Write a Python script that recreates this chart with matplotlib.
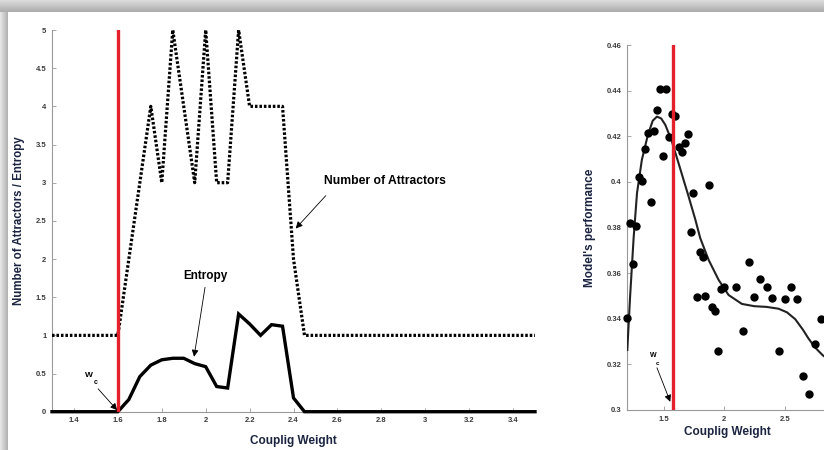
import numpy as np
import matplotlib.pyplot as plt

plt.rcParams.update({'font.family': ['Liberation Sans', 'DejaVu Sans'],
                     'font.weight': 'bold', 'axes.labelweight': 'bold'})

# left panel: number of attractors and entropy vs coupling weight
w_left = [1.3, 1.6, 1.65, 1.7, 1.75, 1.8, 1.85, 1.9, 1.95, 2.0, 2.05, 2.1,
          2.15, 2.2, 2.25, 2.3, 2.35, 2.4, 2.45, 3.5]
attractors = [1, 1, 2, 3, 4, 3, 5, 4, 3, 5, 3, 3, 5, 4, 4, 4, 4, 2, 1, 1]
entropy = [0, 0, 0.16, 0.46, 0.61, 0.68, 0.70, 0.70, 0.63, 0.59, 0.33, 0.31,
           1.28, 1.15, 1.0, 1.14, 1.12, 0.18, 0, 0]
left_xticks = [1.4, 1.6, 1.8, 2.0, 2.2, 2.4, 2.6, 2.8, 3.0, 3.2, 3.4]
left_yticks = [0, 0.5, 1, 1.5, 2, 2.5, 3, 3.5, 4, 4.5, 5]
wc_left = 1.6

# right panel: model performance vs coupling weight
perf_x = [1.22, 1.27, 1.293, 1.32, 1.343, 1.37, 1.395, 1.423, 1.445, 1.467,
          1.522, 1.497, 1.541, 1.569, 1.597, 1.624, 1.649, 1.674, 1.698,
          1.745, 1.874, 1.723, 1.246, 1.197, 1.798, 1.825, 1.773, 1.845,
          1.9, 1.921, 1.946, 1.974, 2.0, 2.1, 2.153, 2.202, 2.25, 2.299,
          2.351, 2.4, 2.45, 2.5, 2.55, 2.602, 2.651, 2.704, 2.754, 2.8]
perf_y = [0.382, 0.3807, 0.402, 0.4004, 0.4144, 0.4213, 0.391, 0.4223,
          0.4315, 0.4407, 0.4407, 0.4114, 0.4196, 0.4298, 0.4289, 0.4152,
          0.413, 0.4172, 0.4211, 0.3953, 0.3986, 0.3779, 0.3639, 0.3402,
          0.3693, 0.3672, 0.3494, 0.350, 0.345, 0.3435, 0.326, 0.3529,
          0.354, 0.354, 0.3346, 0.365, 0.3494, 0.3573, 0.3538, 0.349, 0.326,
          0.3485, 0.3538, 0.3485, 0.3149, 0.3069, 0.329, 0.340]
fit_x = [1.2, 1.223, 1.252, 1.28, 1.32, 1.37, 1.41, 1.445, 1.48, 1.514,
         1.564, 1.624, 1.707, 1.762, 1.803, 1.872, 1.955, 2.037, 2.147,
         2.25, 2.35, 2.45, 2.52, 2.588, 2.65, 2.698, 2.75, 2.813, 2.9]
fit_y = [0.3263, 0.3497, 0.3753, 0.395, 0.4096, 0.4206, 0.4268, 0.4286,
         0.4278, 0.425, 0.4184, 0.4081, 0.3935, 0.3835, 0.3753, 0.3658,
         0.357, 0.3504, 0.3465, 0.3455, 0.3452, 0.3444, 0.3428, 0.3398,
         0.3353, 0.3313, 0.3275, 0.3241, 0.3205]
right_xticks = [1.5, 2, 2.5]
right_yticks = [0.3, 0.32, 0.34, 0.36, 0.38, 0.4, 0.42, 0.44, 0.46]
wc_right = 1.577

label_col = '#1b2440'
tick_col = '#3a3a3a'
red = '#e4202a'

fig = plt.figure(figsize=(8.24, 4.5), dpi=100)

# frame shadow around the picture
bg = np.ones((450, 824, 3))
top = np.linspace(0.86, 0.68, 12)
bg[:12, :, :] = top[:, None, None]
left = np.linspace(0.9, 0.7, 8)
bg[12:, :8, :] = left[None, :, None]
bax = fig.add_axes([0, 0, 1, 1], zorder=-5)
bax.imshow(bg, aspect='auto', interpolation='bilinear')
bax.axis('off')


def style(ax, xticks, yticks):
    ax.spines['top'].set_visible(False)
    ax.spines['right'].set_visible(False)
    ax.spines['left'].set_color('#999999')
    ax.spines['bottom'].set_color('#999999')
    ax.set_xticks(xticks)
    ax.set_xticklabels(['%g' % t for t in xticks], fontweight='bold')
    ax.set_yticks(yticks)
    ax.set_yticklabels(['%g' % t for t in yticks], fontweight='bold')
    ax.tick_params(direction='in', length=3, width=0.6, colors='#999999',
                   labelcolor=tick_col, labelsize=5.5, pad=4)


ax1 = fig.add_axes([0.0631, 0.0851, 0.5862, 0.8482])
ax1.plot(w_left, attractors, color='black', lw=2.3,
         linestyle=(0, (0.8, 0.6)), dash_capstyle='butt', zorder=3)
ax1.plot(w_left, entropy, color='black', lw=2.4, solid_joinstyle='miter',
         clip_on=False, zorder=3)
ax1.axvline(wc_left, color=red, lw=2.4, zorder=4)
ax1.set_xlim(1.3, 3.5)
ax1.set_ylim(0, 5)
style(ax1, left_xticks, left_yticks)
ax1.set_xlabel('Couplig Weight', fontsize=8.5, color=label_col, labelpad=8)
ax1.set_ylabel('Number of Attractors / Entropy', fontsize=8.3,
               color=label_col, labelpad=8)

arrow = dict(arrowstyle='-|>', color='black', lw=0.6, mutation_scale=10,
             shrinkA=0, shrinkB=0)
ax1.text(2.0, 1.78, 'Entropy', ha='center', va='center', fontsize=8.5)
ax1.annotate('', xy=(1.947, 0.72), xytext=(1.997, 1.63), arrowprops=arrow)
ax1.text(2.815, 3.02, 'Number of Attractors', ha='center', va='center',
         fontsize=8.7)
ax1.annotate('', xy=(2.41, 2.4), xytext=(2.547, 2.83), arrowprops=arrow)
ax1.text(1.469, 0.47, 'W', ha='center', va='center', fontsize=6)
ax1.text(1.5, 0.38, 'c', ha='center', va='center', fontsize=5)
ax1.annotate('', xy=(1.597, 0.02), xytext=(1.51, 0.3), arrowprops=arrow)

ax2 = fig.add_axes([0.7613, 0.0889, 0.2643, 0.8111])
ax2.plot(fit_x, fit_y, color='#222222', lw=1.5, zorder=3)
ax2.plot(perf_x, perf_y, 'o', color='black', ms=5, clip_on=False, zorder=4)
ax2.axvline(wc_right, color=red, lw=2.4, zorder=5)
ax2.set_xlim(1.2, 3.0)
ax2.set_ylim(0.3, 0.46)
style(ax2, right_xticks, right_yticks)
ax2.set_xlabel('Couplig Weight', fontsize=8.5, color=label_col)
ax2.xaxis.set_label_coords(0.458, -0.045)
ax2.set_ylabel("Model's performance", fontsize=8.5, color=label_col,
               labelpad=8)
ax2.text(1.417, 0.3237, 'W', ha='center', va='center', fontsize=5)
ax2.text(1.45, 0.3205, 'c', ha='center', va='center', fontsize=4.5)
ax2.annotate('', xy=(1.555, 0.3036), xytext=(1.445, 0.3185), arrowprops=arrow)

fig.savefig('out.png', dpi=100)
